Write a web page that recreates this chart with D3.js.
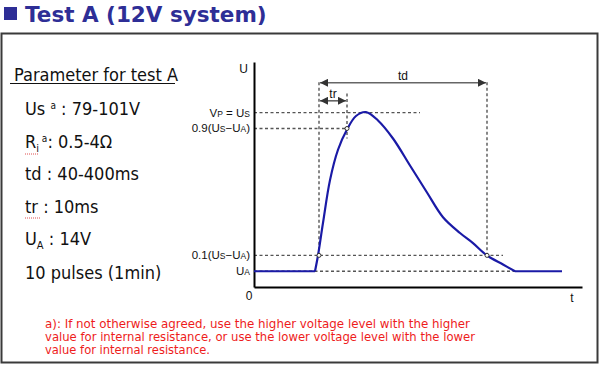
<!DOCTYPE html>
<html><head><meta charset="utf-8">
<script src="https://cdn.jsdelivr.net/npm/d3@7"></script>
<style>
html,body{margin:0;padding:0;background:#fff;}
svg{display:block;}
</style></head>
<body>
<svg id="c" width="600" height="366"></svg>
<script>
// ---- data ----
const curveT = [0, 61, 64, 69, 76, 84, 93, 102, 112, 124, 139, 156, 173, 189, 206, 219, 233, 249, 261, 308];
const curveU = [14, 14, 28, 57, 95, 122, 140, 152, 155.5, 148, 132, 108, 84, 62, 48, 39, 28, 20, 14, 14];
const levelNames = ["Vp", "U90", "U10", "UA"];
const levelU = [155, 140.9, 28.1, 14];
const levelEndT = [166, 94, 249, 261];
const markT = [65, 93, 233];      // 10% rise, 90% rise, 10% fall
const markU = [28.1, 140.9, 28.1];
const tMax = 328, uMax = 200;
const paramLines = ["Us", "Ri", "td : 40-400ms", "tr : 10ms", "UA", "10 pulses (1min)"];
const footLines = [
  "a):  If not otherwise agreed, use the higher voltage level with the higher",
  "value for internal resistance, or use the lower voltage level with the lower",
  "value for internal resistance."
];
const footWidths = [425, 430, 165];

const svg = d3.select("#c");
const F = "'DejaVu Sans Condensed','DejaVu Sans',sans-serif";
const FB = "'DejaVu Sans',sans-serif";
const G = "'Liberation Sans',Arial,sans-serif";

// title
svg.append("rect").attr("x",4).attr("y",7).attr("width",13).attr("height",13).attr("fill","#2e2e96");
svg.append("text").attr("x",25).attr("y",22).attr("font-family",FB).attr("font-weight","bold")
  .attr("font-size",21.5).attr("fill","#2e2e96").text("Test A (12V system)");

// frame
svg.append("rect").attr("x",1.5).attr("y",33.5).attr("width",596).attr("height",329)
  .attr("fill","none").attr("stroke","#3a3a3a").attr("stroke-width",2);

// left parameter panel
svg.append("text").attr("x",14).attr("y",81).attr("font-family",F).attr("font-size",18)
  .attr("fill","#111").text("Parameter for test A");
svg.append("line").attr("x1",10).attr("x2",175).attr("y1",83.5).attr("y2",83.5).attr("stroke","#111").attr("stroke-width",1.2);

const py = [115, 148, 180, 213, 245, 279];
const p = svg.append("g").attr("font-family",F).attr("font-size",18).attr("fill","#111");
// Us
let t = p.append("text").attr("x",25).attr("y",py[0]);
t.append("tspan").text("Us ");
t.append("tspan").attr("font-size",10).attr("dy",-6).text("a");
t.append("tspan").attr("dy",6).text(" : 79-101V");
// Ri
t = p.append("text").attr("x",25).attr("y",py[1]);
t.append("tspan").text("R");
t.append("tspan").attr("font-size",11).attr("dy",4).text("i");
t.append("tspan").attr("font-size",10).attr("dy",-10).text("  a");
t.append("tspan").attr("dy",6).text(": 0.5-4Ω");
p.append("text").attr("x",25).attr("y",py[2]).text(paramLines[2]);
p.append("text").attr("x",25).attr("y",py[3]).text(paramLines[3]);
t = p.append("text").attr("x",25).attr("y",py[4]);
t.append("tspan").text("U");
t.append("tspan").attr("font-size",11).attr("dy",4).text("A");
t.append("tspan").attr("dy",-4).text(" : 14V");
p.append("text").attr("x",25).attr("y",py[5]).text(paramLines[5]);
// spell-check squiggles
[[25,39,py[1]+6],[25,41,py[3]+5]].forEach(s=>{
  svg.append("line").attr("x1",s[0]).attr("x2",s[1]).attr("y1",s[2]).attr("y2",s[2])
    .attr("stroke","#e05050").attr("stroke-width",1).attr("stroke-dasharray","1,1");
});

// ---- chart ----
const x = d3.scaleLinear().domain([0,tMax]).range([254,582]);
const y = d3.scaleLinear().domain([0,uMax]).range([287,62]);

const dash = "3,2.5", dcol = "#555";
const gd = svg.append("g").attr("stroke",dcol).attr("stroke-width",1.4).attr("stroke-dasharray",dash).attr("fill","none");
levelU.forEach((u,i)=>{
  gd.append("line").attr("x1",x(0)).attr("x2",x(levelEndT[i])).attr("y1",y(u)).attr("y2",y(u));
});
// verticals
gd.append("line").attr("x1",x(markT[0])).attr("x2",x(markT[0])).attr("y1",y(182)).attr("y2",y(levelU[2]));
gd.append("line").attr("x1",x(markT[2])).attr("x2",x(markT[2])).attr("y1",y(182)).attr("y2",y(levelU[2]));
gd.append("line").attr("x1",x(markT[1])).attr("x2",x(markT[1])).attr("y1",y(172)).attr("y2",y(132));

// arrows
const defs = svg.append("defs");
defs.append("marker").attr("id","ah").attr("viewBox","0 0 10 10").attr("refX",10).attr("refY",5)
  .attr("markerWidth",5).attr("markerHeight",5).attr("orient","auto-start-reverse")
  .append("path").attr("d","M0,0L10,5L0,10z").attr("fill","#333");
function arrow(t1,t2,u){
  svg.append("line").attr("x1",x(t1)+1).attr("x2",x(t2)-1).attr("y1",y(u)).attr("y2",y(u))
    .attr("stroke","#666").attr("stroke-width",1.6)
    .attr("marker-start","url(#ah)").attr("marker-end","url(#ah)");
}
arrow(markT[0], markT[2], 181.5);
arrow(markT[0], markT[1], 165.5);
svg.append("text").attr("x",(x(markT[0])+x(markT[2]))/2).attr("y",y(184)).attr("text-anchor","middle")
  .attr("font-family",G).attr("font-size",12).attr("fill","#111").text("td");
svg.append("text").attr("x",(x(markT[0])+x(markT[1]))/2).attr("y",y(168)).attr("text-anchor","middle")
  .attr("font-family",G).attr("font-size",12).attr("fill","#111").text("tr");

// axes (domain lines only)
svg.append("g").attr("transform","translate(254,0)")
  .call(d3.axisLeft(y).tickValues([]).tickSizeOuter(0))
  .call(g=>g.select(".domain").attr("stroke","#000").attr("stroke-width",2));
svg.append("g").attr("transform","translate(0,287)")
  .call(d3.axisBottom(x).tickValues([]).tickSizeOuter(0))
  .call(g=>g.select(".domain").attr("stroke","#000").attr("stroke-width",2));

// curve: flat part + smooth pulse
const pts = curveT.map((tt,i)=>[tt,curveU[i]]);
const lineLin = d3.line().x(d=>x(d[0])).y(d=>y(d[1]));
const lineSm = d3.line().x(d=>x(d[0])).y(d=>y(d[1])).curve(d3.curveCatmullRom.alpha(0.5));
const g2 = svg.append("g").attr("fill","none").attr("stroke","#1a1aa6").attr("stroke-width",2.2).attr("stroke-linejoin","round");
g2.append("path").attr("d", lineLin(pts.slice(0,2)));
g2.append("path").attr("d", lineSm(pts.slice(1, pts.length-1)));
g2.append("path").attr("d", lineLin(pts.slice(pts.length-2)));

// markers
markT.forEach((tt,i)=>{
  svg.append("circle").attr("cx",x(tt)).attr("cy",y(markU[i])).attr("r",2)
    .attr("fill","#fff").attr("stroke","#333").attr("stroke-width",1);
});

// axis labels
const L = svg.append("g").attr("font-family",G).attr("font-size",11.5).attr("fill","#111");
L.append("text").attr("x",248).attr("y",73).attr("text-anchor","end").attr("font-size",12).text("U");
L.append("text").attr("x",249).attr("y",300).attr("text-anchor","middle").attr("font-size",12).text("0");
L.append("text").attr("x",572).attr("y",302).attr("text-anchor","middle").attr("font-size",12).text("t");
function lvl(u, parts){
  const tx = L.append("text").attr("x",250).attr("y",y(u)+4).attr("text-anchor","end");
  parts.forEach(pp=>{ const s = tx.append("tspan").text(pp[0]); if(pp[1]) s.attr("font-size",8.5); });
}
lvl(levelU[0], [["V"],["P",1],[" = U"],["S",1]]);
lvl(levelU[1], [["0.9(U"],["S",1],["−U"],["A",1],[")"]]);
lvl(levelU[2], [["0.1(U"],["S",1],["−U"],["A",1],[")"]]);
lvl(levelU[3], [["U"],["A",1]]);

// footnote (one text block, three lines)
const fn = svg.append("text").attr("font-family",F).attr("font-size",12.3).attr("fill","#ee1c1c")
  .attr("x",45).attr("y",328);
footLines.forEach((s,i)=> fn.append("tspan").attr("x",45).attr("dy", i===0 ? 0 : 13.2)
  .attr("textLength",footWidths[i]).attr("lengthAdjust","spacingAndGlyphs").text(s));
</script>
</body></html>
